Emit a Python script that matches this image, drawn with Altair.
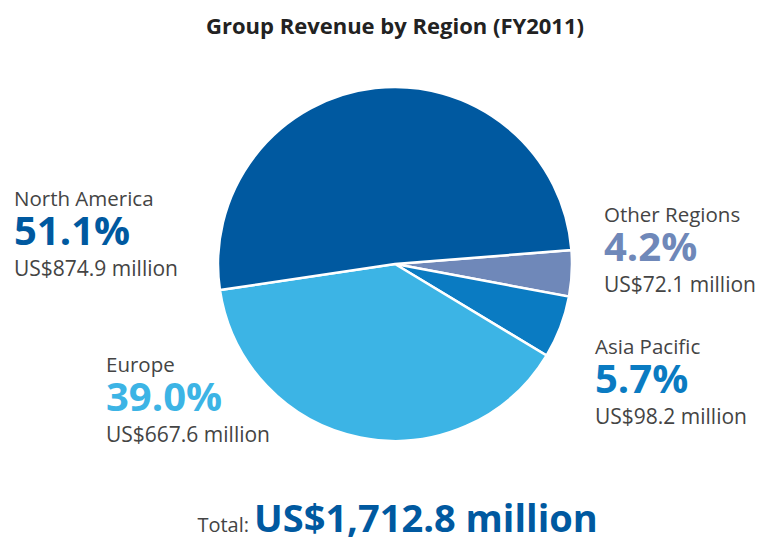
import altair as alt
import pandas as pd
import math

# ---- data ----
regions = ["Other Regions", "Asia Pacific", "Europe", "North America"]
shares = [4.2, 5.7, 39.0, 51.1]
amounts = ["US$72.1 million", "US$98.2 million", "US$667.6 million", "US$874.9 million"]
pct_labels = ["4.2%", "5.7%", "39.0%", "51.1%"]
colors = ["#6f88b9", "#0a7bc2", "#3cb4e5", "#0059a0"]
title_text = "Group Revenue by Region (FY2011)"
total_text = "US$1,712.8 million"

# ---- layout (page px minus 8px margin) ----
M = 8
cx, cy, R = 395 - M, 264 - M, 177
start = math.radians(85.5)
label_x = [604, 595, 106, 14]
name_y = [222, 354, 372, 206]

pie_df = pd.DataFrame({"region": regions, "share": shares, "ord": list(range(len(regions)))})

pie = alt.Chart(pie_df).mark_arc(outerRadius=R, stroke="white", strokeWidth=2.5).encode(
    theta=alt.Theta("share:Q", stack=True, scale=alt.Scale(range=[start, start + 2 * math.pi])),
    color=alt.Color("region:N", scale=alt.Scale(domain=regions, range=colors), legend=None),
    order=alt.Order("ord:Q"),
    x=alt.value(cx), y=alt.value(cy),
)

lab = pd.DataFrame({
    "region": regions, "pct": pct_labels, "amt": amounts,
    "x": [v - M for v in label_x], "y": [v - M for v in name_y],
})
lab["y2"] = lab["y"] + 39
lab["y3"] = lab["y"] + 70

font = "Open Sans"
name_layer = alt.Chart(lab).mark_text(align="left", baseline="alphabetic", font=font, fontSize=20.5, color="#444444").encode(
    x=alt.X("x:Q", scale=None), y=alt.Y("y:Q", scale=None), text="region:N")
pct_layer = alt.Chart(lab).mark_text(align="left", baseline="alphabetic", font=font, fontSize=40, fontWeight="bold").encode(
    x=alt.X("x:Q", scale=None), y=alt.Y("y2:Q", scale=None), text="pct:N",
    color=alt.Color("region:N", scale=alt.Scale(domain=regions, range=colors), legend=None))
amt_layer = alt.Chart(lab).mark_text(align="left", baseline="alphabetic", font=font, fontSize=21, color="#444444").encode(
    x=alt.X("x:Q", scale=None), y=alt.Y("y3:Q", scale=None), text="amt:N")

title = alt.Chart(pd.DataFrame({"t": [title_text]})).mark_text(
    align="center", baseline="alphabetic", font=font, fontSize=22, fontWeight="bold", color="#222222"
).encode(x=alt.value(395 - M), y=alt.value(34 - M), text="t:N")

total_lbl = alt.Chart(pd.DataFrame({"t": ["Total:"]})).mark_text(
    align="right", baseline="alphabetic", font=font, fontSize=20, color="#444444"
).encode(x=alt.value(249 - M), y=alt.value(532 - M), text="t:N")

total_val = alt.Chart(pd.DataFrame({"t": [total_text]})).mark_text(
    align="left", baseline="alphabetic", font=font, fontSize=38, fontWeight="bold", color="#0059a0"
).encode(x=alt.value(254 - M), y=alt.value(532 - M), text="t:N")

chart = alt.layer(pie, name_layer, pct_layer, amt_layer, title, total_lbl, total_val).properties(
    width=748, height=532, padding=0, autosize=alt.AutoSizeParams(type="none")
).configure_view(stroke=None)

chart.save("out.html", embed_options={"renderer": "svg", "actions": False})
